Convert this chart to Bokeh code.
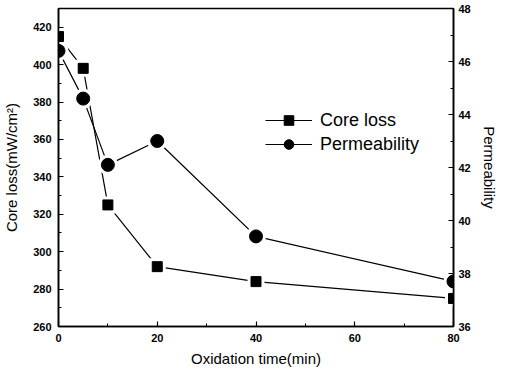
from bokeh.plotting import figure
from bokeh.models import (Range1d, LinearAxis, SingleIntervalTicker, Legend, LegendItem)
from bokeh.embed import file_html
from bokeh.resources import INLINE

# Data
time_min = [0, 5, 10, 20, 40, 80]
core_loss = [415, 398, 325, 292, 284, 275]
permeability = [46.4, 44.6, 42.1, 43.0, 39.4, 37.7]

x_title = "Oxidation time(min)"
y_title = "Core loss(mW/cm\u00b2)"
y2_title = "Permeability"

FONT = "Liberation Sans"

p = figure(width=500, height=369, output_backend="svg", toolbar_location=None,
           x_range=Range1d(0, 80), y_range=Range1d(260, 430),
           x_axis_type=None, y_axis_type=None)
p.min_border_left = 55
p.min_border_right = 42
p.min_border_top = 8
p.min_border_bottom = 43
p.grid.visible = False
p.outline_line_color = "black"
p.outline_line_width = 1.5
p.background_fill_color = "white"
p.border_fill_color = "white"

p.extra_y_ranges = {"perm": Range1d(36, 48)}


def style(ax, standoff, lab_standoff):
    ax.axis_line_width = 1.6
    ax.axis_line_color = "black"
    ax.major_tick_in = 5
    ax.major_tick_out = 0
    ax.minor_tick_in = 3
    ax.minor_tick_out = 0
    ax.major_tick_line_color = "black"
    ax.minor_tick_line_color = "black"
    ax.major_tick_line_width = 1.2
    ax.minor_tick_line_width = 1
    ax.major_label_text_font = FONT
    ax.major_label_text_font_style = "bold"
    ax.major_label_text_font_size = "11px"
    ax.major_label_text_color = "black"
    ax.major_label_standoff = standoff
    ax.axis_label_text_font = FONT
    ax.axis_label_text_font_style = "normal"
    ax.axis_label_text_font_size = "15px"
    ax.axis_label_text_color = "black"
    ax.axis_label_standoff = lab_standoff


xax = LinearAxis(ticker=SingleIntervalTicker(interval=20, num_minor_ticks=2),
                 axis_label=x_title)
style(xax, 7, 5)
p.add_layout(xax, "below")

yax = LinearAxis(ticker=SingleIntervalTicker(interval=20, num_minor_ticks=2),
                 axis_label=y_title)
style(yax, 7, 10)
p.add_layout(yax, "left")

y2ax = LinearAxis(y_range_name="perm",
                  ticker=SingleIntervalTicker(interval=2, num_minor_ticks=2),
                  axis_label=y2_title)
style(y2ax, 5, 7)
p.add_layout(y2ax, "right")

l1 = p.line(time_min, core_loss, line_color="black", line_width=1.2)
l2 = p.line(time_min, permeability, y_range_name="perm", line_color="black", line_width=1.2)
# white halos give the small gap between connecting lines and symbols
p.scatter(time_min, core_loss, marker="square", size=17,
          fill_color="white", line_color=None)
p.scatter(time_min, permeability, y_range_name="perm", marker="circle", size=20,
          fill_color="white", line_color=None)
m1 = p.scatter(time_min, core_loss, marker="square", size=10,
               fill_color="black", line_color="black")
m2 = p.scatter(time_min, permeability, y_range_name="perm", marker="circle", size=13,
               fill_color="black", line_color="black")

legend = Legend(items=[LegendItem(label="Core loss", renderers=[l1, m1]),
                       LegendItem(label="Permeability", renderers=[l2, m2])],
                location=(207, 170))
legend.background_fill_alpha = 0
legend.border_line_alpha = 0
legend.padding = 0
legend.margin = 0
legend.spacing = 0
legend.glyph_width = 47
legend.glyph_height = 24
legend.label_height = 24
legend.label_standoff = 8
legend.label_text_font = FONT
legend.label_text_font_size = "18px"
legend.label_text_color = "black"
p.add_layout(legend, "center")

open("out.html", "w").write(file_html(p, INLINE))
